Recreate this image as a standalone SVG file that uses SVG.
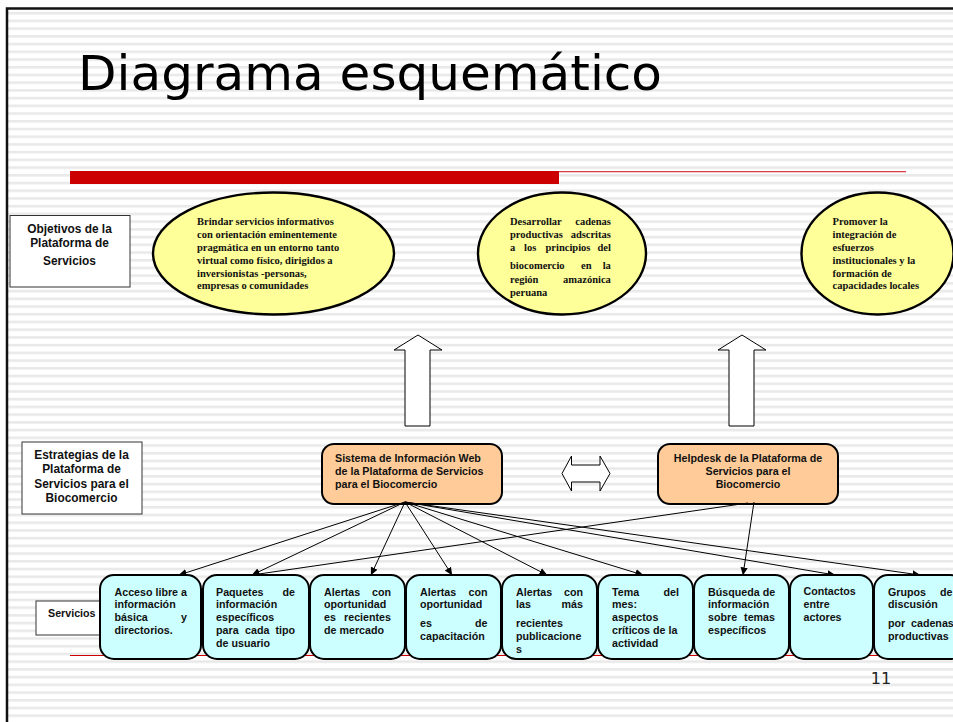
<svg xmlns="http://www.w3.org/2000/svg" width="953" height="722" viewBox="0 0 953 722">
<defs>
<pattern id="stripes" patternUnits="userSpaceOnUse" x="0" y="11.9" width="953" height="7.72"><rect x="0" y="0" width="953" height="2.6" fill="#e9e9e9"/></pattern>
<marker id="ah" markerUnits="userSpaceOnUse" viewBox="0 0 10 10" refX="9.5" refY="5" markerWidth="8" markerHeight="8" orient="auto"><path d="M0 0.5L10 5L0 9.5Z" fill="#000"/></marker>
</defs>
<style>
.ell{fill:#ffff99;stroke:#000;stroke-width:2.4}
.s{font:bold 10.5px "Liberation Serif",serif;fill:#111}
.a{font:bold 10.7px "Liberation Sans",Arial,sans-serif;fill:#111}
.l{font:bold 11.9px "Liberation Sans",Arial,sans-serif;fill:#111;text-anchor:middle}
.m{text-anchor:middle}
.lab{fill:#fff;stroke:#333;stroke-width:1}
.org{fill:#ffcc99;stroke:#000;stroke-width:2}
.cy{fill:#ccffff;stroke:#000;stroke-width:2}
.c{stroke:#000;stroke-width:1;fill:none;marker-end:url(#ah)}
</style>
<rect width="953" height="722" fill="#fff"/>
<rect x="7" y="8" width="946" height="714" fill="url(#stripes)"/>
<path d="M953 8.500H7V722" fill="none" stroke="#111" stroke-width="2.500"/>
<text x="78" y="90" font-family="'DejaVu Sans',Verdana,sans-serif" font-size="48" textLength="584" lengthAdjust="spacingAndGlyphs" fill="#000">Diagrama esquemático</text>
<rect x="70" y="171" width="489" height="13" fill="#cc0000"/>
<rect x="559" y="171" width="347" height="1.300" fill="#d9414a"/>
<rect x="70" y="655" width="836" height="1" fill="#cc0000"/>
<g id="label-objetivos"><rect class="lab" x="10" y="215.500" width="120" height="71.500"/>
<text class="l"><tspan x="69.500" y="233">Objetivos de la</tspan><tspan x="69.500" y="247">Plataforma de</tspan><tspan x="69.500" y="265">Servicios</tspan></text></g>
<g id="obj-1"><ellipse class="ell" cx="273.500" cy="253.500" rx="120.500" ry="61"/>
<text class="s"><tspan x="197" y="225">Brindar servicios informativos</tspan><tspan x="197" y="238">con orientación eminentemente</tspan><tspan x="197" y="251">pragmática en un entorno tanto</tspan><tspan x="197" y="264">virtual como físico, dirigidos a</tspan><tspan x="197" y="277">inversionistas -personas,</tspan><tspan x="197" y="289">empresas o comunidades</tspan></text></g>
<g id="obj-2"><ellipse class="ell" cx="562" cy="253.500" rx="84" ry="61"/>
<text class="s"><tspan x="510" y="225">Desarrollar</tspan><tspan x="613.500" y="225" text-anchor="end">cadenas</tspan>
<tspan x="510" y="238">productivas</tspan><tspan x="613.500" y="238" text-anchor="end">adscritas</tspan>
<tspan x="510" y="251">a</tspan><tspan x="524" y="251">los</tspan><tspan x="545.500" y="251">principios</tspan><tspan x="613.500" y="251" text-anchor="end">del</tspan>
<tspan x="510" y="269">biocomercio</tspan><tspan x="581" y="269">en</tspan><tspan x="613.500" y="269" text-anchor="end">la</tspan>
<tspan x="510" y="283">región</tspan><tspan x="613.500" y="283" text-anchor="end">amazónica</tspan>
<tspan x="510" y="296">peruana</tspan></text></g>
<g id="obj-3"><ellipse class="ell" cx="877.500" cy="253.500" rx="76" ry="61"/>
<text class="s"><tspan x="832.500" y="225">Promover la</tspan><tspan x="832.500" y="238">integración de</tspan><tspan x="832.500" y="251">esfuerzos</tspan><tspan x="832.500" y="264">institucionales y la</tspan><tspan x="832.500" y="277">formación de</tspan><tspan x="832.500" y="289">capacidades locales</tspan></text></g>
<g id="arrow-up-1"><path d="M418 335L442 350H430V426H405V350H394Z" fill="#fff" stroke="#000"/></g>
<g id="arrow-up-2"><path d="M742 335L766 350H754V426H729V350H718Z" fill="#fff" stroke="#000"/></g>
<g id="arrow-both"><path d="M562 473.500L571.500 456V465H600V456L610 473.500L600 491V482H571.500V491Z" fill="#fff" stroke="#000"/></g>
<g id="label-estrategias"><rect class="lab" x="22" y="442" width="120" height="72"/>
<text class="l"><tspan x="81.500" y="459">Estrategias de la</tspan><tspan x="81.500" y="473">Plataforma de</tspan><tspan x="81.500" y="488">Servicios para el</tspan><tspan x="81.500" y="502">Biocomercio</tspan></text></g>
<g id="sistema"><rect class="org" x="322" y="444" width="180" height="60" rx="12"/>
<text class="a"><tspan x="335" y="462">Sistema de Información Web</tspan><tspan x="335" y="475">de la Plataforma de Servicios</tspan><tspan x="335" y="488">para el Biocomercio</tspan></text></g>
<g id="helpdesk"><rect class="org" x="658" y="444" width="180" height="60" rx="12"/>
<text class="a m"><tspan x="748" y="462">Helpdesk de la Plataforma de</tspan><tspan x="748" y="475">Servicios para el</tspan><tspan x="748" y="488">Biocomercio</tspan></text></g>
<g id="label-servicios"><rect class="lab" x="36" y="601" width="70" height="34"/>
<text class="a" x="48" y="617">Servicios</text></g>
<g id="connectors">
<path class="c" d="M405 502L179 575"/>
<path class="c" d="M405 502L252 575"/>
<path class="c" d="M405 502L371 575"/>
<path class="c" d="M405 502L452 575"/>
<path class="c" d="M405 502L547 575"/>
<path class="c" d="M405 502L643 575"/>
<path class="c" d="M405 502L835 575"/>
<path class="c" d="M405 502L920 575"/>
<path class="c" d="M748 503L252 575"/>
<path class="c" d="M754 502L743 575"/>
</g>
<g id="s1"><rect class="cy" x="100" y="575" width="101" height="84" rx="14"/>
<text class="a"><tspan x="114.500" y="596">Acceso libre a</tspan><tspan x="114.500" y="608">información</tspan><tspan x="114.500" y="621">básica</tspan><tspan x="187" y="621" text-anchor="end">y</tspan><tspan x="114.500" y="634">directorios.</tspan></text></g>
<g id="s2"><rect class="cy" x="203" y="575" width="106" height="84" rx="14"/>
<text class="a"><tspan x="216" y="596">Paquetes</tspan><tspan x="295" y="596" text-anchor="end">de</tspan><tspan x="216" y="608">información</tspan><tspan x="216" y="621">específicos</tspan><tspan x="216" y="634">para</tspan><tspan x="245" y="634">cada</tspan><tspan x="295" y="634" text-anchor="end">tipo</tspan><tspan x="216" y="647">de usuario</tspan></text></g>
<g id="s3"><rect class="cy" x="310" y="575" width="95" height="84" rx="14"/>
<text class="a"><tspan x="324" y="596">Alertas</tspan><tspan x="391" y="596" text-anchor="end">con</tspan><tspan x="324" y="608">oportunidad</tspan><tspan x="324" y="621">es</tspan><tspan x="391" y="621" text-anchor="end">recientes</tspan><tspan x="324" y="634">de mercado</tspan></text></g>
<g id="s4"><rect class="cy" x="406" y="575" width="95" height="84" rx="14"/>
<text class="a"><tspan x="420" y="596">Alertas</tspan><tspan x="487.500" y="596" text-anchor="end">con</tspan><tspan x="420" y="608">oportunidad</tspan><tspan x="420" y="627">es</tspan><tspan x="487.500" y="627" text-anchor="end">de</tspan><tspan x="420" y="640">capacitación</tspan></text></g>
<g id="s5"><rect class="cy" x="502" y="575" width="95" height="84" rx="14"/>
<text class="a"><tspan x="516" y="596">Alertas</tspan><tspan x="583" y="596" text-anchor="end">con</tspan><tspan x="516" y="608">las</tspan><tspan x="583" y="608" text-anchor="end">más</tspan><tspan x="516" y="627">recientes</tspan><tspan x="516" y="640">publicacione</tspan><tspan x="516" y="653">s</tspan></text></g>
<g id="s6"><rect class="cy" x="598" y="575" width="95" height="84" rx="14"/>
<text class="a"><tspan x="612" y="596">Tema</tspan><tspan x="679" y="596" text-anchor="end">del</tspan><tspan x="612" y="608">mes:</tspan><tspan x="612" y="621">aspectos</tspan><tspan x="612" y="634">críticos de la</tspan><tspan x="612" y="647">actividad</tspan></text></g>
<g id="s7"><rect class="cy" x="694" y="575" width="95" height="84" rx="14"/>
<text class="a"><tspan x="708" y="596">Búsqueda de</tspan><tspan x="708" y="608">información</tspan><tspan x="708" y="621">sobre</tspan><tspan x="775" y="621" text-anchor="end">temas</tspan><tspan x="708" y="634">específicos</tspan></text></g>
<g id="s8"><rect class="cy" x="790" y="575" width="83" height="84" rx="14"/>
<text class="a"><tspan x="803.500" y="595">Contactos</tspan><tspan x="803.500" y="608">entre</tspan><tspan x="803.500" y="621">actores</tspan></text></g>
<g id="s9"><rect class="cy" x="874" y="575" width="90" height="84" rx="14"/>
<text class="a"><tspan x="888" y="596">Grupos</tspan><tspan x="940" y="596">de</tspan><tspan x="888" y="608">discusión</tspan><tspan x="888" y="627">por</tspan><tspan x="911" y="627">cadenas</tspan><tspan x="888" y="640">productivas</tspan></text></g>
<text x="881" y="684" text-anchor="middle" font-family="'DejaVu Sans',Verdana,sans-serif" font-size="16" fill="#222">11</text>
</svg>
